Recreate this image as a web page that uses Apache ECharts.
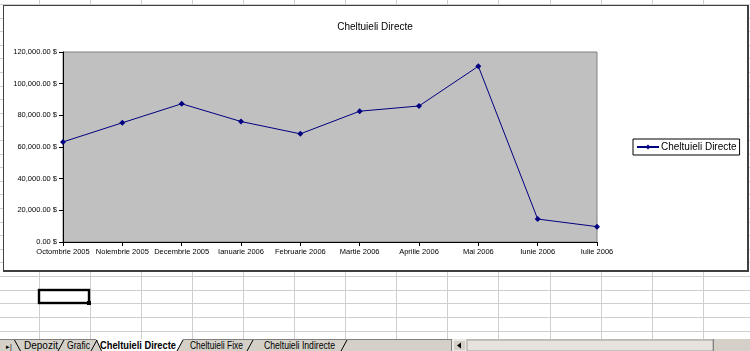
<!DOCTYPE html>
<html>
<head>
<meta charset="utf-8">
<script src="https://cdn.jsdelivr.net/npm/echarts@6/dist/echarts.min.js"></script>
<style>
    html, body { margin: 0; padding: 0; background: #fff; }
    #sheet { position: absolute; left: 0; top: 0; width: 750px; height: 351px; }
    #frame { position: absolute; left: 3px; top: 5px; width: 743px; height: 264px;
             background: #fff; border: 1px solid #404040; border-right-width: 2px; border-bottom-width: 2px; }
    #chart { position: absolute; left: 0; top: 0; width: 750px; height: 351px; }
</style>
</head>
<body>
<!-- foaia excel din spate -->
<svg id="sheet" width="750" height="351" xmlns="http://www.w3.org/2000/svg" font-family="Liberation Sans, Arial, sans-serif">
    <g id="grid" stroke="#cfcfcf" stroke-width="1"></g>
    <!-- celula selectata -->
    <rect x="39" y="290" width="50" height="13" fill="none" stroke="#000" stroke-width="2.4"/>
    <rect x="87" y="301" width="4" height="4" fill="#000"/>
    <!-- bara cu foi -->
    <rect x="0" y="339" width="750" height="12" fill="#d4d0c8"/>
    <line x1="0" y1="339.5" x2="452" y2="339.5" stroke="#808080"/>
    <polygon points="96,339 183,339 177,351 101,351" fill="#fff"/>
    <g stroke="#000" stroke-width="1" fill="none">
        <line x1="14.5" y1="340" x2="20.5" y2="351"/>
        <line x1="58" y1="351" x2="64" y2="340"/>
        <line x1="91" y1="351" x2="97" y2="340"/>
        <line x1="96.5" y1="340" x2="101.5" y2="351"/>
        <line x1="177" y1="351" x2="183" y2="340"/>
        <line x1="247" y1="351" x2="253" y2="340"/>
        <line x1="341" y1="351" x2="347" y2="340"/>
    </g>
    <text x="6" y="349" font-size="7" fill="#000">▸|</text>
    <text x="24" y="349" font-size="10" fill="#000">Depozit</text>
    <text x="67" y="349" font-size="10" fill="#000" textLength="23" lengthAdjust="spacingAndGlyphs">Grafic</text>
    <text x="100" y="349" font-size="10" font-weight="bold" fill="#000" textLength="76" lengthAdjust="spacingAndGlyphs">Cheltuieli Directe</text>
    <text x="190" y="349" font-size="10" fill="#000" textLength="53" lengthAdjust="spacingAndGlyphs">Cheltuieli Fixe</text>
    <text x="264" y="349" font-size="10" fill="#000" textLength="71" lengthAdjust="spacingAndGlyphs">Cheltuieli Indirecte</text>
    <!-- bara de derulare -->
    <line x1="451.5" y1="339" x2="451.5" y2="351" stroke="#808080"/>
    <rect x="453" y="340" width="13" height="11" fill="#d4d0c8" stroke="#fff"/>
    <polygon points="457,345.5 461,342.5 461,348.5" fill="#000"/>
    <rect x="467" y="340" width="246" height="11" fill="#e6e3dc" stroke="#a0a0a0"/>
    <line x1="713.5" y1="339" x2="713.5" y2="351" stroke="#808080"/>
</svg>
<div id="frame"></div>
<div id="chart"></div>
<script>
    var luni = ['Octombrie 2005', 'Noiembrie 2005', 'Decembrie 2005', 'Ianuarie 2006', 'Februarie 2006',
                'Martie 2006', 'Aprilie 2006', 'Mai 2006', 'Iunie 2006', 'Iulie 2006'];
    var cheltuieliDirecte = [63200, 75300, 87300, 76100, 68300, 82600, 85900, 111000, 14500, 9700];
    var yTicks = [0, 20000, 40000, 60000, 80000, 100000, 120000];

    // grila foii de calcul
    var g = document.getElementById('grid');
    var svgNs = 'http://www.w3.org/2000/svg';
    for (var x = 38.5; x < 750; x += 51.1) {
        var l = document.createElementNS(svgNs, 'line');
        l.setAttribute('x1', Math.round(x) + 0.5); l.setAttribute('x2', Math.round(x) + 0.5);
        l.setAttribute('y1', 0); l.setAttribute('y2', 339);
        g.appendChild(l);
    }
    for (var y = 330.5; y > 0; y -= 13.6) {
        var h = document.createElementNS(svgNs, 'line');
        h.setAttribute('y1', Math.round(y) + 0.5); h.setAttribute('y2', Math.round(y) + 0.5);
        h.setAttribute('x1', 0); h.setAttribute('x2', 750);
        g.appendChild(h);
    }

    function bani(v) {
        return v.toLocaleString('en-US', { minimumFractionDigits: 2, maximumFractionDigits: 2 }) + ' $';
    }

    var chart = echarts.init(document.getElementById('chart'));
    var font = 'Liberation Sans, Arial, sans-serif';
    var option = {
        animation: false,
        textStyle: { fontFamily: font },
        title: {
            text: 'Cheltuieli Directe',
            left: 'center',
            top: 17,
            textStyle: { fontSize: 10, fontWeight: 'normal', color: '#000', fontFamily: font }
        },
        legend: {
            data: ['Cheltuieli Directe'],
            left: 633,
            top: 139,
            orient: 'vertical',
            backgroundColor: '#fff',
            borderColor: '#000',
            borderWidth: 1,
            borderRadius: 0,
            padding: [3, 3, 3, 3],
            itemWidth: 22,
            itemHeight: 6,
            itemGap: 0,
            textStyle: { fontSize: 10, color: '#000', fontFamily: font, padding: [0, 0, 0, -3] }
        },
        grid: {
            left: 63,
            top: 52,
            right: 153,
            bottom: 109,
            show: true,
            backgroundColor: '#c0c0c0',
            borderColor: '#808080',
            borderWidth: 1
        },
        xAxis: {
            type: 'category',
            data: luni,
            boundaryGap: false,
            axisLine: { lineStyle: { color: '#000', width: 1 } },
            axisTick: { alignWithLabel: true, length: 4, lineStyle: { color: '#000' } },
            axisLabel: { fontSize: 7.5, color: '#000', margin: 6, interval: 0, fontFamily: font },
            splitLine: { show: false }
        },
        yAxis: {
            type: 'value',
            min: yTicks[0],
            max: yTicks[yTicks.length - 1],
            interval: yTicks[1] - yTicks[0],
            axisLine: { show: true, lineStyle: { color: '#000', width: 1 } },
            axisTick: { show: true, length: 4, lineStyle: { color: '#000' } },
            axisLabel: { fontSize: 7.5, color: '#000', margin: 6, formatter: bani, fontFamily: font },
            splitLine: { show: false }
        },
        series: [{
            name: 'Cheltuieli Directe',
            type: 'line',
            data: cheltuieliDirecte,
            symbol: 'diamond',
            symbolSize: 6,
            lineStyle: { color: '#000080', width: 1 },
            itemStyle: { color: '#000080' }
        }]
    };
    chart.setOption(option);
</script>
</body>
</html>
